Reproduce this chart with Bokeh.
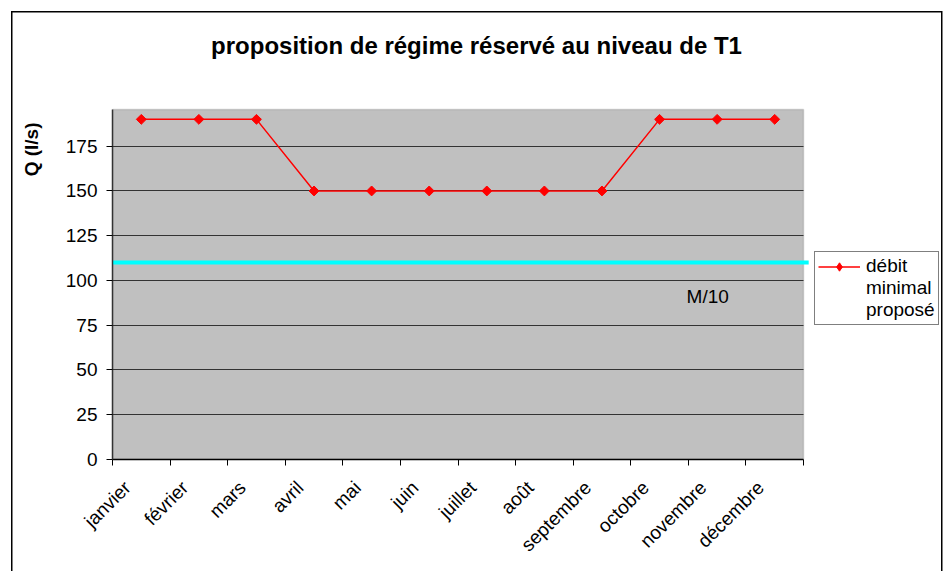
import math
from bokeh.plotting import figure
from bokeh.models import (Range1d, FixedTicker, Label, Legend, LegendItem,
                          Title, BoxAnnotation)
from bokeh.embed import file_html
from bokeh.resources import INLINE

# ---- data ----
months = ["janvier", "février", "mars", "avril", "mai", "juin", "juillet",
          "août", "septembre", "octobre", "novembre", "décembre"]
debit_minimal = [190, 190, 190, 150, 150, 150, 150, 150, 150, 190, 190, 190]
m10_value = 110
y_ticks = [0, 25, 50, 75, 100, 125, 150, 175]
y_max = 195.5

title_text = "proposition de régime réservé au niveau de T1"
y_label_text = "Q (l/s)"
legend_lines = ["débit", "minimal", "proposé"]
m10_text = "M/10"
m10_label_pos = (9.97, 90.8)

FONT = "Liberation Sans"

# ---- layout (pixels) ----
PLOT_W, PLOT_H = 691, 350          # grey plot area
LEFT, BOTTOM, RIGHT = 112, 112, 1  # canvas borders
FRAME_W, FRAME_H = 831, 459        # frame also holds title and legend
LABEL_SHIFT_PX = 14                # month labels sit left of the category centre

n = len(months)
px_per_x = PLOT_W / n
x_pos = [i + 0.5 for i in range(n)]
x_bounds = list(range(n + 1))
label_pos = [x - LABEL_SHIFT_PX / px_per_x for x in x_pos]
x_end = FRAME_W / px_per_x
y_end = FRAME_H * y_max / PLOT_H

p = figure(frame_width=FRAME_W, frame_height=FRAME_H,
           x_range=Range1d(0, x_end), y_range=Range1d(0, y_end),
           output_backend="svg", toolbar_location=None,
           min_border_left=LEFT, min_border_right=RIGHT,
           min_border_top=0, min_border_bottom=BOTTOM,
           background_fill_alpha=0, border_fill_color="white",
           border_fill_alpha=0, outline_line_color=None)
p.title.text = ""
p.title.standoff = 0

# outer chart border drawn behind the transparent canvas
p.styles = {
    "background-image": "linear-gradient(#000,#000), linear-gradient(#000,#000), linear-gradient(#000,#000)",
    "background-size": "931px 1.5px, 1.5px 600px, 1.5px 600px",
    "background-position": "11px 10.5px, 10.5px 11px, 941px 11px",
    "background-repeat": "no-repeat",
}

# grey plot area
p.add_layout(BoxAnnotation(left=0, right=n, bottom=0, top=y_max,
                           fill_color="#C0C0C0", fill_alpha=1,
                           line_color="#808080", line_width=1.5,
                           level="image"))

# x axis
p.xaxis.bounds = (0, n)
p.xaxis.ticker = FixedTicker(ticks=label_pos, minor_ticks=x_bounds)
p.xaxis.major_label_overrides = {x: m for x, m in zip(label_pos, months)}
p.xaxis.major_tick_line_color = None
p.xaxis.major_tick_out = 0
p.xaxis.major_tick_in = 0
p.xaxis.minor_tick_line_color = "black"
p.xaxis.minor_tick_out = 6
p.xaxis.minor_tick_in = 0
p.xaxis.major_label_orientation = math.pi / 4
p.xaxis.major_label_standoff = 19
p.xaxis.major_label_text_font = FONT
p.xaxis.major_label_text_font_size = "19px"
p.xaxis.major_label_text_color = "black"
p.xaxis.axis_line_color = "black"
p.xaxis.axis_line_width = 1.5
p.xgrid.visible = False

# y axis
p.yaxis.bounds = (0, y_max)
p.yaxis.ticker = FixedTicker(ticks=y_ticks)
p.yaxis.minor_tick_line_color = None
p.yaxis.major_tick_out = 6
p.yaxis.major_tick_in = 0
p.yaxis.major_tick_line_color = "black"
p.yaxis.major_label_standoff = 9
p.yaxis.major_label_text_font = FONT
p.yaxis.major_label_text_font_size = "19px"
p.yaxis.major_label_text_color = "black"
p.yaxis.axis_line_color = "#333333"
p.yaxis.axis_line_width = 1.5
p.ygrid.grid_line_color = "#333333"
p.ygrid.grid_line_width = 1
p.ygrid.cross_bounds = (0, n)

# y label as a side title placed near the top of the axis
p.add_layout(Title(text=y_label_text, align="right", offset=122, standoff=38,
                   vertical_align="top",
                   text_font=FONT, text_font_size="19px",
                   text_font_style="bold", text_color="black"), "left")

# M/10 line
p.line([x_bounds[0], x_bounds[-1] + 0.09], [m10_value, m10_value],
       line_color="#00FFFF", line_width=4)

# series
r_line = p.line(x_pos, debit_minimal, line_color="#FF0000", line_width=1.5)
r_pts = p.scatter(x_pos, debit_minimal, marker="square", angle=math.pi / 4,
                  size=7, fill_color="#FF0000", line_color="#FF0000")
# diamond swatch for the legend (hidden in the plot)
r_leg = p.scatter(x_pos, debit_minimal, marker="diamond",
                  fill_color="#FF0000", line_color="#FF0000", visible=False)
r_blank = p.line(x=[], y=[], line_alpha=0)

# M/10 label
p.add_layout(Label(x=m10_label_pos[0], y=m10_label_pos[1], text=m10_text,
                   text_font=FONT, text_font_size="19px", text_color="black",
                   text_baseline="middle", text_align="left"))

# title (inside the extended frame, screen units from frame bottom-left)
p.add_layout(Label(x=364, y=414, x_units="screen", y_units="screen",
                   text=title_text, text_font=FONT, text_font_size="24px",
                   text_font_style="bold", text_color="black",
                   text_align="center", text_baseline="middle"))

# legend
legend = Legend(items=[LegendItem(label=legend_lines[0],
                                  renderers=[r_line, r_leg]),
                       LegendItem(label=legend_lines[1], renderers=[r_blank]),
                       LegendItem(label=legend_lines[2], renderers=[r_blank])],
                location=(702, 134), orientation="vertical",
                border_line_color="black", border_line_width=1,
                background_fill_color="white", background_fill_alpha=1,
                inactive_fill_alpha=0,
                label_text_font=FONT, label_text_font_size="19px",
                label_text_color="black",
                glyph_width=42, glyph_height=21, label_height=21,
                label_standoff=6, padding=3, margin=0, spacing=0)
p.add_layout(legend, "center")

open("out.html", "w").write(file_html(p, INLINE))
